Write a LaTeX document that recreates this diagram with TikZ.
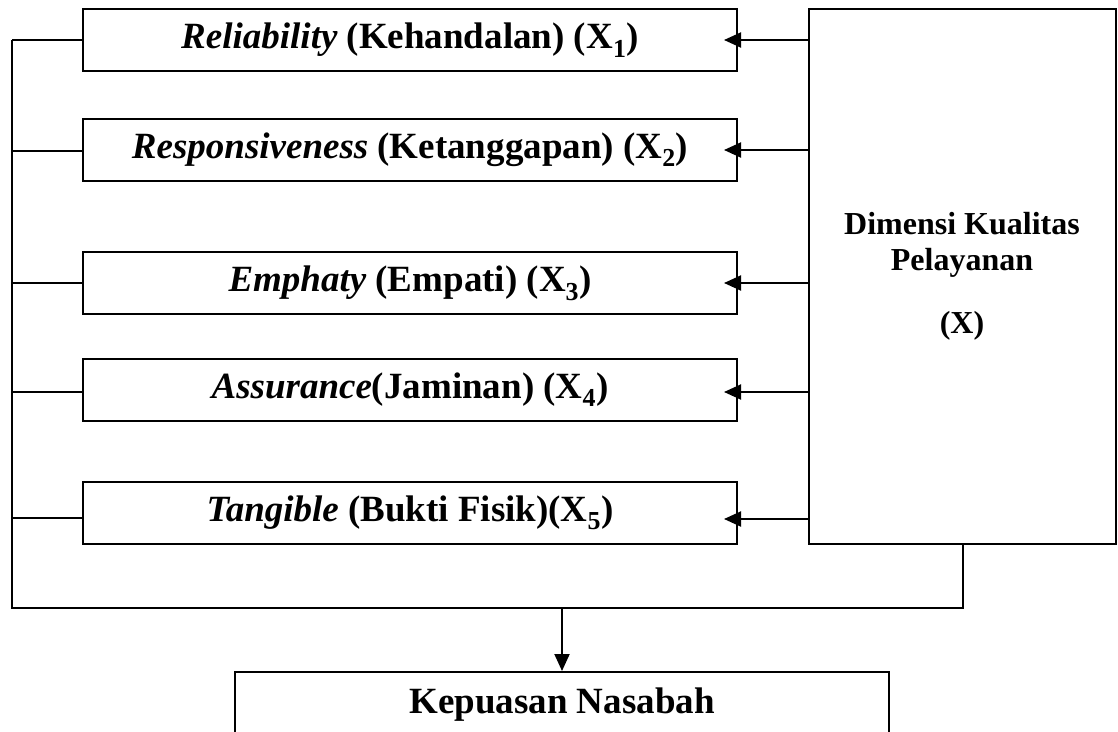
\documentclass[tikz,border=0pt]{standalone}
\usepackage{fontspec}
\setmainfont{Liberation Serif}
\usetikzlibrary{arrows.meta}
\begin{document}
\begin{tikzpicture}[x=1pt,y=-1pt,
  ln/.style={line width=2pt},
  dimbox/.style={draw,line width=2pt,minimum width=654pt,minimum height=62pt,inner sep=0pt,font=\fontsize{37}{42}\selectfont\bfseries},
  lbl/.style={inner sep=0pt,font=\fontsize{32}{38}\selectfont\bfseries},
  arr/.style={line width=2pt,-{Triangle[length=17pt,width=15pt]}}]
\useasboundingbox (0,0) rectangle (1118,731);
\node[dimbox] (r1) at (410,40) {\raisebox{-3pt}{\textit{Reliability} (Kehandalan) (X\textsubscript{1})}};
\node[dimbox] (r2) at (410,149.5) {\raisebox{-3pt}{\textit{Responsiveness} (Ketanggapan) (X\textsubscript{2})}};
\node[dimbox] (r3) at (410,283) {\raisebox{-3pt}{\textit{Emphaty} (Empati) (X\textsubscript{3})}};
\node[dimbox] (r4) at (410,389.5) {\raisebox{-3pt}{\textit{Assurance}(Jaminan) (X\textsubscript{4})}};
\node[dimbox] (r5) at (410,513) {\raisebox{-3pt}{\textit{Tangible} (Bukti Fisik)(X\textsubscript{5})}};
\node[draw,line width=2pt,minimum width=307pt,minimum height=535pt,inner sep=0pt] (big) at (962.5,276.5) {};
\node[lbl] (t1) at (962,224) {Dimensi Kualitas};
\node[lbl] (t2) at (962,263) {Pelayanan};
\node[lbl] (t3) at (962,326) {(X)};
\node[draw,line width=2pt,minimum width=654pt,minimum height=66pt,inner sep=0pt,font=\fontsize{37}{44}\selectfont\bfseries] (kep) at (562,705) {Kepuasan Nasabah};
\coordinate (lt) at (12,40);
\coordinate (lb) at (12,608);
\coordinate (rb) at (963,608);
\coordinate (mid) at (562,608);
\draw[ln] (lt) -- (lb) -- (rb) -- (rb |- big.south);
\foreach \r/\yy in {r1/40,r2/151,r3/283,r4/392,r5/518}{
  \draw[ln] (12,\yy) -- (\r.west |- 0,\yy);
}
\foreach \r/\yy in {r1/40,r2/150,r3/283,r4/392,r5/519}{
  \draw[arr] (big.west |- 0,\yy) -- ([xshift=-14pt]\r.east |- 0,\yy);
}
\draw[arr] (mid) -- (kep.north);
\end{tikzpicture}
\end{document}
